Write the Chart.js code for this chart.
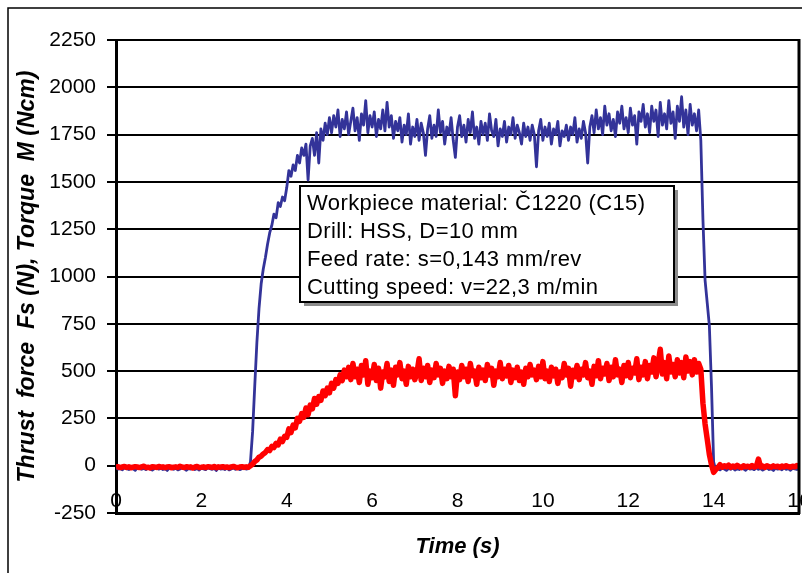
<!DOCTYPE html>
<html>
<head>
<meta charset="utf-8">
<title>Thrust force and torque vs time</title>
<script src="https://cdn.jsdelivr.net/npm/chart.js@4.4.1/dist/chart.umd.min.js"></script>
<style>
  html, body { margin: 0; padding: 0; background: #fff; }
  #wrap { width: 802px; height: 573px; position: relative; }
</style>
</head>
<body>
<div id="wrap"><canvas id="forceChart"></canvas></div>
<script>
// Sampling grid of the recorded signals (s)
const SAMPLE_STEP = 0.05;

// Axis tick labels
const xTicks = [0, 2, 4, 6, 8, 10, 12, 14, 16];
const yTicks = [-250, 0, 250, 500, 750, 1000, 1250, 1500, 1750, 2000, 2250];

// Test conditions shown in the box
const infoLines = [
    'Workpiece material: Č1220 (C15)',
    'Drill: HSS, D=10 mm',
    'Feed rate: s=0,143 mm/rev',
    'Cutting speed: v=22,3 m/min'
];

// Torque M (Ncm), one value per sample
const torqueM = [
    // 0.00 - 3.10 s
    -12,-18,-15,-22,-10,-16,-20,-13,-17,-24,
    -11,-15,-19,-14,-21,-12,-17,-23,-15,-10,
    -18,-14,-20,-16,-25,-12,-15,-19,-13,-22,
    -17,-11,-16,-24,-14,-18,-12,-20,-15,-23,
    -13,-17,-21,-10,-16,-19,-14,-25,-12,-18,
    -15,-20,-13,-22,-17,-11,-19,-14,-21,-16,
    -12,-18,-15,
    // 3.15 - 5.00 s
    20,180,420,650,830,960,1040,1100,1170,1230,
    1270,1330,1310,1390,1370,1420,1400,1470,1560,1530,
    1590,1560,1640,1600,1680,1640,1700,1510,1690,1730,
    1640,1760,1600,1780,1720,1810,1750,1840,
    // 5.05 - 6.60 s
    1760,1850,1790,1880,1740,1830,1780,1870,1750,1820,
    1890,1770,1840,1720,1860,1800,1930,1760,1850,1790,
    1870,1740,1830,1780,1880,1770,1920,1790,1850,1730,
    1820,1770,
    // 6.65 - 8.00 s
    1840,1710,1800,1750,1860,1700,1790,1740,1830,1720,
    1810,1760,1640,1780,1850,1730,1800,1740,1880,1760,
    1820,1700,1790,1750,1840,1720,1630,1790,
    // 8.05 - 9.70 s
    1850,1740,1800,1710,1830,1760,1870,1730,1790,1700,
    1820,1750,1810,1720,1860,1770,1740,1830,1690,1780,
    1740,1820,1710,1790,1750,1840,1730,1800,1760,1700,
    1810,1740,1790,1720,
    // 9.75 - 11.20 s
    1800,1750,1580,1770,1830,1720,1790,1740,1810,1700,
    1780,1750,1820,1690,1770,1740,1800,1720,1790,1750,
    1840,1710,1780,1730,1820,1760,1600,1790,1850,1760,
    // 11.25 - 12.40 s
    1880,1780,1840,1750,1900,1800,1860,1770,1830,1740,
    1870,1810,1900,1780,1840,1760,1890,1800,1850,1700,
    1870,1820,1910,1790,
    // 12.45 - 13.65 s
    1860,1760,1900,1820,1880,1740,1920,1800,1860,1780,
    1930,1810,1870,1730,1900,1820,1950,1790,1880,1750,
    1910,1800,1860,1770,1880,
    // 13.70 - 14.05 s
    1720,1300,980,860,740,420,20,-25,
    // 14.10 - 16.00 s
    -15,-22,-12,-18,-25,-14,-19,-11,-23,-16,
    -20,-13,-17,-24,-12,-18,-15,-21,-10,-19,
    -14,-23,-16,-12,-20,-17,-25,-13,-18,-15,
    -22,-11,-19,-16,-24,-13,-17,-20,-14
];

// Thrust force Fs (N), one value per sample
const thrustFs = [
    // 0.00 - 3.10 s
    -8,-5,-10,-7,-4,-9,-6,-11,-8,-5,
    -7,-10,-6,-3,-9,-8,-12,-5,-7,-9,
    -4,-8,-6,-10,-7,-5,-11,-8,-6,-9,
    -3,-7,-10,-5,-8,-6,-12,-7,-4,-9,
    -8,-6,-10,-5,-7,-9,-4,-11,-6,-8,
    -5,-9,-7,-10,-6,-4,-8,-11,-7,-5,
    -9,-6,-8,
    // 3.15 - 5.40 s
    0,8,22,30,45,50,62,70,85,80,
    102,96,118,110,140,128,155,150,195,175,
    215,200,250,235,275,255,305,270,320,300,
    355,325,365,345,395,370,410,385,435,410,
    455,435,480,450,505,470,
    // 5.45 - 6.60 s
    520,455,540,470,510,440,530,480,555,430,
    500,465,535,450,515,410,495,470,540,445,
    505,425,520,480,
    // 6.65 - 8.00 s
    545,460,500,430,525,470,510,455,490,565,
    450,515,470,530,440,505,465,540,480,515,
    435,500,460,525,470,510,370,495,
    // 8.05 - 9.70 s
    455,530,470,510,445,540,475,500,430,520,
    465,505,450,535,480,515,425,500,470,545,
    460,510,475,530,440,505,465,520,450,495,
    430,515,470,535,
    // 9.75 - 11.20 s
    480,505,455,525,470,550,460,500,445,520,
    475,510,435,495,465,540,480,515,420,505,
    470,530,455,510,480,545,465,500,430,525,
    // 11.25 - 12.40 s
    475,555,460,515,485,540,450,520,470,560,
    480,510,440,530,475,545,465,515,490,565,
    455,520,480,550,
    // 12.45 - 13.65 s
    460,530,495,570,470,540,615,485,545,460,
    580,495,535,470,560,490,545,465,575,500,
    550,480,560,495,540,
    // 13.70 - 14.05 s
    510,330,220,140,60,5,-35,-20,
    // 14.10 - 16.00 s
    -10,5,-8,0,-6,3,-9,-2,-7,2,
    -5,-10,0,-6,-3,-8,1,-7,-4,35,
    -6,-2,-9,0,-5,-8,-1,-6,-3,-9,
    -2,-7,0,-5,-8,-3,-6,1,-4
];

const times = torqueM.map((_, i) => +(i * SAMPLE_STEP).toFixed(2));
const toPoints = arr => arr.map((v, i) => ({ x: times[i], y: v }));

const FONT = '"Liberation Sans", Arial, Helvetica, sans-serif';
Chart.defaults.font.family = FONT;
Chart.defaults.color = '#000';

// frame, right border, x labels inside the plot and the info box
const figureDecor = {
    id: 'figureDecor',
    beforeDraw(chart) {
        const ctx = chart.ctx;
        ctx.save();
        ctx.fillStyle = '#fff';
        ctx.fillRect(0, 0, chart.width, chart.height);
        ctx.strokeStyle = '#000';
        ctx.lineWidth = 1.5;
        ctx.beginPath();
        ctx.moveTo(8, chart.height);
        ctx.lineTo(8, 8);
        ctx.lineTo(chart.width, 8);
        ctx.stroke();
        ctx.restore();
    },
    afterDatasetsDraw(chart) {
        const { ctx, chartArea, scales: { x } } = chart;
        ctx.save();

        ctx.fillStyle = '#000';
        ctx.font = '21px ' + FONT;
        ctx.textAlign = 'center';
        ctx.textBaseline = 'middle';
        xTicks.forEach(t => ctx.fillText(String(t), x.getPixelForValue(t), chartArea.bottom - 12));

        ctx.strokeStyle = '#000';
        ctx.lineWidth = 3;
        ctx.beginPath();
        ctx.moveTo(chartArea.right, chartArea.top - 1);
        ctx.lineTo(chartArea.right, chartArea.bottom + 1);
        ctx.stroke();

        const bx = chartArea.left + 184, by = chartArea.top + 146, bw = 374, bh = 116;
        ctx.fillStyle = '#8c8c8c';
        ctx.fillRect(bx + 4, by + 4, bw, bh);
        ctx.fillStyle = '#fff';
        ctx.fillRect(bx, by, bw, bh);
        ctx.lineWidth = 2;
        ctx.strokeRect(bx, by, bw, bh);
        ctx.fillStyle = '#000';
        ctx.font = '22px ' + FONT;
        ctx.letterSpacing = '0.4px';
        ctx.textAlign = 'left';
        infoLines.forEach((s, i) => ctx.fillText(s, bx + 7, by + 18 + i * 28));

        ctx.restore();
    }
};

new Chart(document.getElementById('forceChart'), {
    type: 'line',
    data: {
        datasets: [
            {
                label: 'Thrust force Fs (N)',
                data: toPoints(thrustFs),
                borderColor: '#ff0000',
                borderWidth: 5.5,
                pointRadius: 0,
                tension: 0,
                borderJoinStyle: 'round'
            },
            {
                label: 'Torque M (Ncm)',
                data: toPoints(torqueM),
                borderColor: '#333399',
                borderWidth: 2.8,
                pointRadius: 0,
                tension: 0,
                borderJoinStyle: 'round'
            }
        ]
    },
    options: {
        responsive: true,
        maintainAspectRatio: false,
        animation: false,
        layout: { padding: { top: 40, right: 3, left: 0, bottom: 0 } },
        plugins: {
            legend: { display: false },
            tooltip: { enabled: false }
        },
        scales: {
            x: {
                type: 'linear',
                min: xTicks[0],
                max: xTicks[xTicks.length - 1],
                grid: { display: false },
                border: { display: true, color: '#000', width: 3 },
                ticks: { display: false },
                title: {
                    display: true,
                    text: 'Time (s)',
                    color: '#000',
                    font: { size: 22, weight: 'bold', style: 'italic' },
                    padding: { top: 0, bottom: 13 }
                },
                afterFit(scale) { scale.height = 60; }
            },
            y: {
                min: yTicks[0],
                max: yTicks[yTicks.length - 1],
                afterBuildTicks(scale) { scale.ticks = yTicks.map(v => ({ value: v })); },
                ticks: {
                    color: '#000',
                    font: { size: 21 },
                    padding: 11,
                    callback: v => String(v)
                },
                grid: { color: '#000', lineWidth: 2, tickLength: 9, drawTicks: true },
                border: { color: '#000', width: 3 },
                title: {
                    display: true,
                    text: 'Thrust  force  Fs (N), Torque  M (Ncm)',
                    color: '#000',
                    font: { size: 23, weight: 'bold', style: 'italic' },
                    padding: { top: 14, bottom: 0 }
                },
                afterFit(scale) { scale.width = 116; }
            }
        }
    },
    plugins: [figureDecor]
});
</script>
</body>
</html>
